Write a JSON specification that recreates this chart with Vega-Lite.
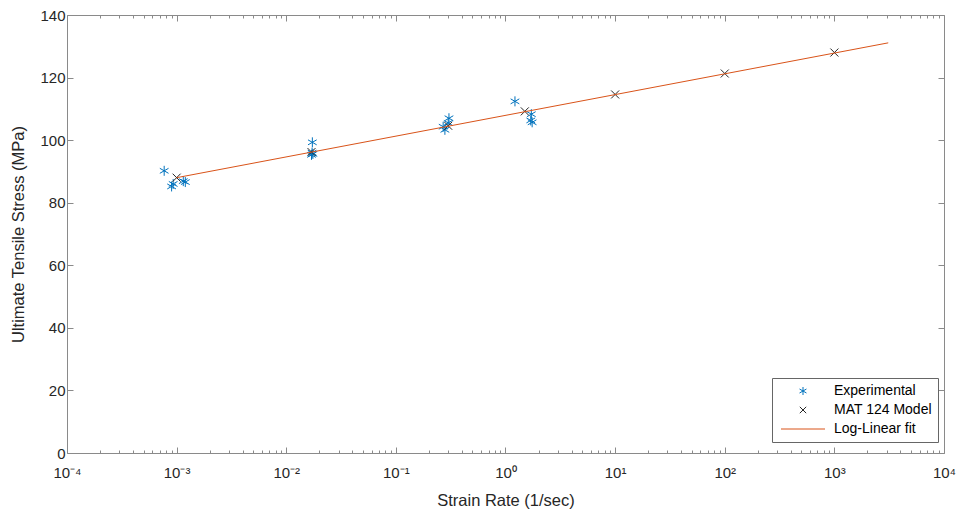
{
  "$schema": "https://vega.github.io/schema/vega-lite/v6.json",
  "width": 877,
  "height": 438,
  "autosize": {"type": "none"},
  "padding": {"left": 67, "top": 15, "right": 17, "bottom": 59},
  "background": "white",
  "config": {
    "view": {"stroke": null},
    "font": "Liberation Sans",
    "axis": {
      "domainColor": "#8a8a8a",
      "domainWidth": 1,
      "tickColor": "#8a8a8a",
      "tickWidth": 1,
      "labelColor": "#262626",
      "titleColor": "#262626",
      "labelFont": "Liberation Sans",
      "titleFont": "Liberation Sans",
      "labelFontSize": 15,
      "titleFontSize": 16.5,
      "titleFontWeight": "normal",
      "grid": false
    }
  },
  "datasets": {
    "pts": [
      {"rate": 0.00077, "uts": 90.2, "series": "Experimental"},
      {"rate": 0.00090, "uts": 85.2, "series": "Experimental"},
      {"rate": 0.00093, "uts": 86.0, "series": "Experimental"},
      {"rate": 0.00115, "uts": 86.9, "series": "Experimental"},
      {"rate": 0.00120, "uts": 86.6, "series": "Experimental"},
      {"rate": 0.0173, "uts": 99.3, "series": "Experimental"},
      {"rate": 0.0172, "uts": 96.0, "series": "Experimental"},
      {"rate": 0.0170, "uts": 95.3, "series": "Experimental"},
      {"rate": 0.0175, "uts": 95.6, "series": "Experimental"},
      {"rate": 0.305, "uts": 107.0, "series": "Experimental"},
      {"rate": 0.27, "uts": 104.3, "series": "Experimental"},
      {"rate": 0.28, "uts": 103.3, "series": "Experimental"},
      {"rate": 0.30, "uts": 105.5, "series": "Experimental"},
      {"rate": 1.22, "uts": 112.4, "series": "Experimental"},
      {"rate": 1.72, "uts": 108.3, "series": "Experimental"},
      {"rate": 1.70, "uts": 106.3, "series": "Experimental"},
      {"rate": 1.75, "uts": 105.7, "series": "Experimental"},
      {"rate": 0.001, "uts": 88.0, "series": "MAT 124 Model"},
      {"rate": 0.017, "uts": 96.2, "series": "MAT 124 Model"},
      {"rate": 0.30, "uts": 104.6, "series": "MAT 124 Model"},
      {"rate": 1.5, "uts": 109.2, "series": "MAT 124 Model"},
      {"rate": 10, "uts": 114.6, "series": "MAT 124 Model"},
      {"rate": 100, "uts": 121.3, "series": "MAT 124 Model"},
      {"rate": 1000, "uts": 128.0, "series": "MAT 124 Model"}
    ],
    "fit": [
      {"rate": 0.001, "uts": 88.0, "series": "Log-Linear fit"},
      {"rate": 3100, "uts": 131.1, "series": "Log-Linear fit"}
    ]
  },
  "layer": [
    {
      "data": {"name": "pts"},
      "mark": {"type": "point", "filled": false, "strokeWidth": 1, "size": 100, "opacity": 1},
      "encoding": {
        "x": {
          "field": "rate", "type": "quantitative",
          "scale": {"type": "log", "domain": [0.0001, 10000]},
          "axis": {
            "orient": "bottom",
            "title": "Strain Rate (1/sec)",
            "values": [0.0001,0.0002,0.0003,0.0004,0.0005,0.0006,0.0007,0.0008,0.0009,0.001,0.002,0.003,0.004,0.005,0.006,0.007,0.008,0.009,0.01,0.02,0.03,0.04,0.05,0.06,0.07,0.08,0.09,0.1,0.2,0.3,0.4,0.5,0.6,0.7,0.8,0.9,1,2,3,4,5,6,7,8,9,10,20,30,40,50,60,70,80,90,100,200,300,400,500,600,700,800,900,1000,2000,3000,4000,5000,6000,7000,8000,9000,10000],
            "labelExpr": "abs(log(datum.value)/LN10 - round(log(datum.value)/LN10)) < 0.001 ? '10' + ['⁻⁴','⁻³','⁻²','⁻¹','⁰','¹','²','³','⁴'][round(log(datum.value)/LN10)+4] : ''",
            "tickSize": {"condition": {"test": "abs(log(datum.value)/LN10 - round(log(datum.value)/LN10)) < 0.001", "value": -6}, "value": -3},
            "labelPadding": 18,
            "titlePadding": 9,
            "labelOverlap": false,
            "labelFlush": false,
            "labelBound": false
          }
        },
        "y": {
          "field": "uts", "type": "quantitative",
          "scale": {"domain": [0, 140], "nice": false, "zero": false},
          "axis": {
            "orient": "left",
            "title": "Ultimate Tensile Stress (MPa)",
            "values": [0, 20, 40, 60, 80, 100, 120, 140],
            "tickSize": -6,
            "labelPadding": 8,
            "titlePadding": 13
          }
        },
        "color": {
          "field": "series", "type": "nominal",
          "scale": {"domain": ["Experimental", "MAT 124 Model", "Log-Linear fit"], "range": ["#0072BD", "#262626", "#D95319"]},
          "legend": {"orient": "none", "legendX": 705, "legendY": 363, "title": null, "padding": 6, "strokeColor": "#666666", "fillColor": "white", "symbolSize": 64, "symbolStrokeWidth": 1, "symbolOffset": 18, "labelOffset": 24, "labelFontSize": 14, "labelFont": "Liberation Sans", "labelColor": "#000000", "rowPadding": 5}
        },
        "shape": {
          "field": "series", "type": "nominal",
          "scale": {"domain": ["Experimental", "MAT 124 Model", "Log-Linear fit"], "range": ["M0,-1L0,1M-0.87,-0.5L0.87,0.5M-0.87,0.5L0.87,-0.5", "M-0.8,-0.8L0.8,0.8M-0.8,0.8L0.8,-0.8", "M-5.5,0L5.5,0"]},
          "legend": {"orient": "none", "legendX": 705, "legendY": 363, "title": null, "padding": 6, "strokeColor": "#666666", "fillColor": "white", "symbolSize": 64, "symbolStrokeWidth": 1, "symbolOffset": 18, "labelOffset": 24, "labelFontSize": 14, "labelFont": "Liberation Sans", "labelColor": "#000000", "rowPadding": 5}
        }
      }
    },
    {
      "data": {"name": "fit"},
      "mark": {"type": "line", "strokeWidth": 1},
      "encoding": {
        "x": {"field": "rate", "type": "quantitative", "axis": null},
        "y": {"field": "uts", "type": "quantitative", "axis": null},
        "color": {
          "field": "series", "type": "nominal",
          "legend": {"orient": "none", "legendX": 705, "legendY": 363, "title": null, "padding": 6, "strokeColor": "#666666", "fillColor": "white", "symbolSize": 64, "symbolStrokeWidth": 1, "symbolOffset": 18, "labelOffset": 24, "labelFontSize": 14, "labelFont": "Liberation Sans", "labelColor": "#000000", "rowPadding": 5}
        }
      }
    },
    {
      "data": {"name": "fit"},
      "mark": {"type": "point", "opacity": 0},
      "encoding": {
        "x": {
          "field": "rate", "type": "quantitative",
          "axis": {
            "orient": "top",
            "title": null,
            "labels": false,
            "values": [0.0001,0.0002,0.0003,0.0004,0.0005,0.0006,0.0007,0.0008,0.0009,0.001,0.002,0.003,0.004,0.005,0.006,0.007,0.008,0.009,0.01,0.02,0.03,0.04,0.05,0.06,0.07,0.08,0.09,0.1,0.2,0.3,0.4,0.5,0.6,0.7,0.8,0.9,1,2,3,4,5,6,7,8,9,10,20,30,40,50,60,70,80,90,100,200,300,400,500,600,700,800,900,1000,2000,3000,4000,5000,6000,7000,8000,9000,10000],
            "tickSize": {"condition": {"test": "abs(log(datum.value)/LN10 - round(log(datum.value)/LN10)) < 0.001", "value": -6}, "value": -3}
          }
        },
        "y": {
          "field": "uts", "type": "quantitative",
          "axis": {
            "orient": "right",
            "title": null,
            "labels": false,
            "values": [0, 20, 40, 60, 80, 100, 120, 140],
            "tickSize": -6
          }
        }
      }
    }
  ],
  "resolve": {"axis": {"x": "independent", "y": "independent"}}
}
